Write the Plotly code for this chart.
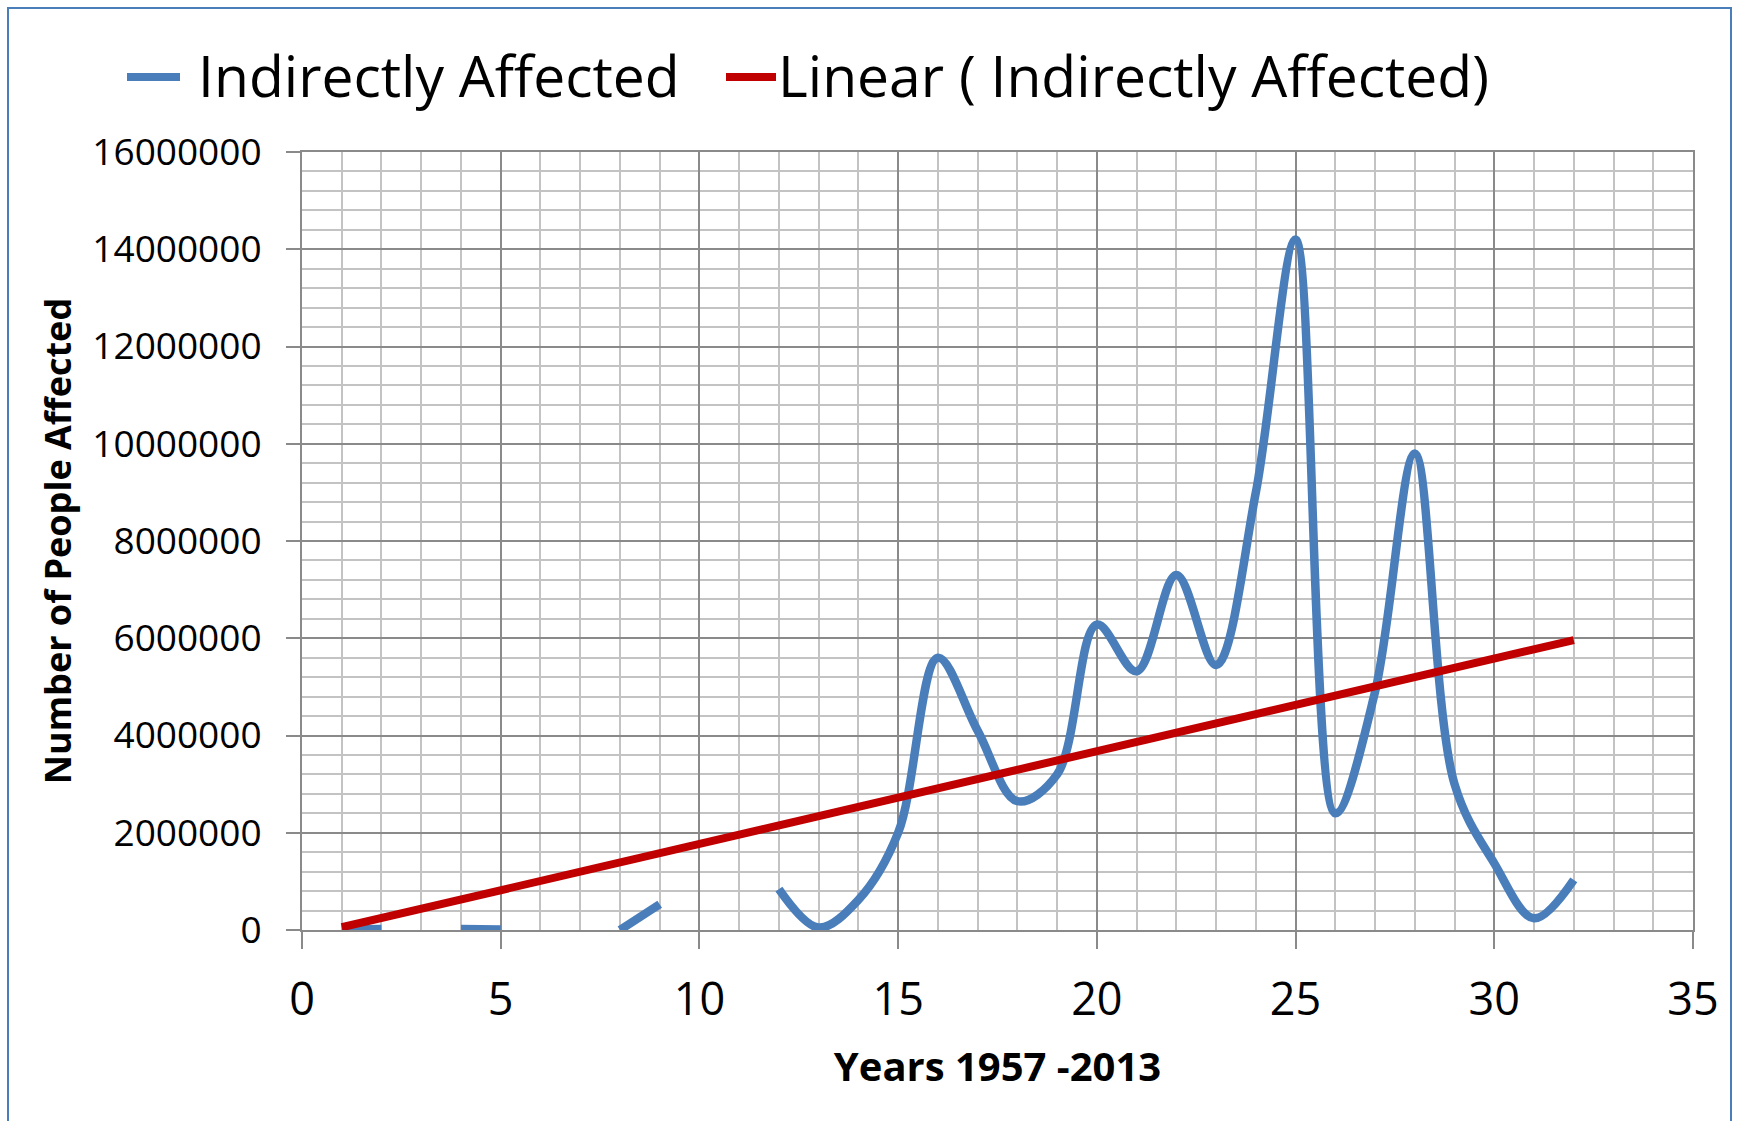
import numpy as np
import plotly.graph_objects as go

# ---- data ----
years = list(range(1, 33))
indirect = [10000, 20000, None, 20000, 10000, None, None, 0, 530000, None, None,
            840000, 50000, 620000, 2000000, 5600000, 4100000, 2650000, 3200000,
            6280000, 5320000, 7300000, 5450000, 9000000, 14200000, 2400000,
            4900000, 9800000, 3000000, 1370000, 240000, 1030000]
series_name = "Indirectly Affected"
trend_name = "Linear ( Indirectly Affected)"
x_title = "Years 1957 -2013"
y_title = "Number of People Affected"

# linear trend from the non-empty points
xs = np.array([x for x, v in zip(years, indirect) if v is not None], dtype=float)
ys = np.array([v for v in indirect if v is not None], dtype=float)
slope, intercept = np.polyfit(xs, ys, 1)
trend_x = [xs.min(), xs.max()]
trend_y = [slope * t + intercept for t in trend_x]

BLUE = "#4A7EBB"
RED = "#C00000"
FONT = "Open Sans"
MINOR = "#C3C3C3"
MAJOR = "#8A8A8A"

fig = go.Figure()
fig.add_trace(go.Scatter(x=years, y=indirect, mode="lines", name=series_name,
                         line=dict(color=BLUE, width=8.5, shape="spline", smoothing=1),
                         connectgaps=False))
fig.add_trace(go.Scatter(x=trend_x, y=trend_y, mode="lines", name=trend_name,
                         line=dict(color=RED, width=8)))

W, H = 1741, 1121
PL, PR, PT, PB = 302, 1693, 152, 930  # plot area in page pixels
pw, ph = PR - PL, PB - PT
L, T = PL, PT
R, B = W - pw - L, H - ph - T


def px(xpix):
    return (xpix - PL) / pw


def py(ypix):
    return (PB - ypix) / ph


shapes = [
    # outer chart border
    dict(type="rect", xref="paper", yref="paper", x0=px(8), x1=px(1731),
         y0=py(1140), y1=py(8), line=dict(color=BLUE, width=2),
         fillcolor="rgba(0,0,0,0)", layer="below"),
    # legend samples
    dict(type="line", xref="paper", yref="paper", x0=px(127), x1=px(180), y0=py(77), y1=py(77),
         line=dict(color=BLUE, width=8)),
    dict(type="line", xref="paper", yref="paper", x0=px(726), x1=px(776), y0=py(77), y1=py(77),
         line=dict(color=RED, width=8)),
]
annotations = [
    dict(text=series_name, xref="paper", yref="paper", x=px(196), y=py(75),
         xanchor="left", yanchor="middle", showarrow=False,
         font=dict(family=FONT, size=57, color="black")),
    dict(text=trend_name, xref="paper", yref="paper", x=px(776), y=py(75),
         xanchor="left", yanchor="middle", showarrow=False,
         font=dict(family=FONT, size=57, color="black")),
]

fig.update_layout(
    width=W, height=H,
    margin=dict(l=L, r=R, t=T, b=B, pad=0),
    paper_bgcolor="white", plot_bgcolor="white",
    showlegend=False,
    font=dict(family=FONT, color="black"),
    shapes=shapes, annotations=annotations,
)
fig.update_xaxes(
    range=[0, 35], dtick=5, tick0=0,
    showgrid=True, gridcolor=MAJOR, gridwidth=2,
    minor=dict(dtick=1, tick0=0, showgrid=True, gridcolor=MINOR, gridwidth=2),
    showline=True, linecolor=MAJOR, linewidth=2, mirror=True,
    ticks="outside", ticklen=17, tickwidth=2, tickcolor=MAJOR,
    tickfont=dict(family=FONT, size=45, color="black"),
    ticklabelstandoff=12,
    zeroline=False,
    title=dict(text="<b>" + x_title + "</b>", font=dict(family=FONT, size=40, color="black"), standoff=26),
)
fig.update_yaxes(
    range=[0, 16000000], dtick=2000000, tick0=0, tickformat="d",
    showgrid=True, gridcolor=MAJOR, gridwidth=2,
    minor=dict(dtick=400000, tick0=0, showgrid=True, gridcolor=MINOR, gridwidth=2),
    showline=True, linecolor=MAJOR, linewidth=2, mirror=True,
    ticks="outside", ticklen=14, tickwidth=2, tickcolor=MAJOR,
    tickfont=dict(family=FONT, size=37, color="black"),
    ticklabelstandoff=17,
    zeroline=False,
    title=dict(text="<b>" + y_title + "</b>", font=dict(family=FONT, size=36, color="black"), standoff=10),
)

fig.write_html("out.html", config={"displayModeBar": False},
               post_script="document.body.style.margin='0px';document.body.style.overflow='hidden';")
